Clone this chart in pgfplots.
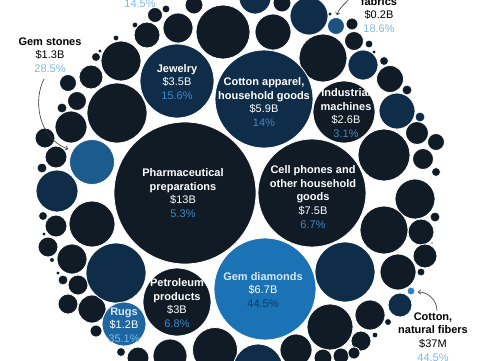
\documentclass[border=0pt]{standalone}
\usepackage{pgfplots}
\usepackage{pgfplotstable}
\pgfplotsset{compat=1.18}
\usepackage{fontspec}
\setmainfont{Liberation Sans}
\usetikzlibrary{arrows.meta}
\definecolor{blk}{HTML}{111B25}
\definecolor{nvy}{HTML}{0F2D49}
\definecolor{gemd}{HTML}{1B73B6}
\definecolor{rug}{HTML}{1E66A2}
\definecolor{gems}{HTML}{1C5B8E}
\definecolor{fab}{HTML}{1D5283}
\definecolor{cotf}{HTML}{2C84C6}
\definecolor{pctd}{HTML}{3F87C8}
\definecolor{pctl}{HTML}{7DB8DD}
\definecolor{pctg}{HTML}{0D3C6C}
\definecolor{rugl}{HTML}{D4E8F7}
\definecolor{rugp}{HTML}{79BCEB}
\definecolor{arr}{HTML}{333333}

\pgfplotstableread{
x y r
117 113 30
121 61 20
91 77 12
68 83 8.5
77 101 9.5
62 108 5
71 127 16
45 138 10
56 157 11
42 168 5
96 57 4.5
100 51 2
116 38 3
135 25 3
147 35 13
155 15 7.5
166 9 4
178 28 15
194 5 9
223 32 27
282 3 9
273 32 18
323 58 24
352 24 6
330 14 2
354 41 9.5
369 44 4
374 52 2
384 61 4.5
390 79 13.5
407 90 5
417 133 11.5
436 142 8.5
384 155 26
423 159 10.5
436 172 4.5
415 199 20
435 217 5
421 232 13
432 243 1.5
384 230 24
425 256 12
398 272 18
421 272 4
388 322 3.5
370 315 15
330 327 23
361 341 10
375 335 3
296 350 16
323 358 9
341 356 8
354 353 6
92 224 23
56 226 11
43 216 4.5
44 234 2
48 247 10
52 260 2.5
72 259 15
58 273 2
63 280 5
78 285 10
68 304 10
92 309 14
96 331 6
121 352 4.5
138 358 11
170 356 17
215 350 22.5
177 302 34
344 112 31
185 193 71
312 193 54
}\blacktab

\pgfplotstableread{
x y r
264 99 49
177 81 37
57 191 21
116 273 30
345 272 30
309 16 19
255 -2 16
363 65 15
397 111 18
420 117 5
400 305 12
258 369 25
}\navytab

\pgfplotstableread{
x y r
265 289 51
}\gemdtab
\pgfplotstableread{
x y r
124 324 22
}\rugtab
\pgfplotstableread{
x y r
92 162 22.5
}\gemstab
\pgfplotstableread{
x y r
336 26 8.5
}\fabtab
\pgfplotstableread{
x y r
411 291 4
}\cotftab

\pgfplotsset{bubble/.style={scatter, only marks, mark=*, line width=0.8pt,
  point meta=\thisrow{r},
  scatter/use mapped color={draw=white, fill=#1},
  visualization depends on={\thisrow{r} \as \perpointmarksize},
  scatter/@pre marker code/.append style={/tikz/mark size=\perpointmarksize}}}

\newcommand{\lab}{\fontsize{11}{13.7}\selectfont}

\begin{document}
\begin{tikzpicture}
\path[use as bounding box] (0,0) rectangle (500pt,360pt);
\begin{axis}[at={(250pt,180pt)}, anchor=center, scale only axis,
  width=500pt, height=360pt, xmin=0, xmax=500, ymin=0, ymax=360,
  y dir=reverse, hide axis, clip=false]
\addplot[bubble=blk] table {\blacktab};
\addplot[bubble=nvy] table {\navytab};
\addplot[bubble=gemd] table {\gemdtab};
\addplot[bubble=rug] table {\rugtab};
\addplot[bubble=gems] table {\gemstab};
\addplot[bubble=fab] table {\fabtab};
\addplot[bubble=cotf] table {\cotftab};
\coordinate (Lpharma) at (axis cs:183,193);
\coordinate (Lcell) at (axis cs:313,197);
\coordinate (Lcotap) at (axis cs:264,102);
\coordinate (Ljew) at (axis cs:177,82);
\coordinate (Lind) at (axis cs:346,113);
\coordinate (Lgemd) at (axis cs:263,290);
\coordinate (Lpet) at (axis cs:177,303);
\coordinate (Lrug) at (axis cs:124,325);
\coordinate (Lgems) at (axis cs:50,55);
\coordinate (Lfab) at (axis cs:379,15);
\coordinate (Lcotf) at (axis cs:433,337);
\coordinate (Ltop) at (axis cs:140,4);
\coordinate (A1) at (axis cs:44,79);
\coordinate (A1a) at (axis cs:33,100);
\coordinate (A1b) at (axis cs:38,138);
\coordinate (A1c) at (axis cs:68,149);
\coordinate (A2) at (axis cs:350,-2);
\coordinate (A2a) at (axis cs:344,5);
\coordinate (A2b) at (axis cs:339,8);
\coordinate (A2c) at (axis cs:337,15);
\coordinate (A3) at (axis cs:437,311);
\coordinate (A3a) at (axis cs:437,300);
\coordinate (A3b) at (axis cs:428,292);
\coordinate (A3c) at (axis cs:418,292);
\end{axis}

% labels inside circles
\node[font=\lab, align=center, text=white] at (Lpharma)
  {\textbf{Pharmaceutical}\\\textbf{preparations}\\\$13B\\\textcolor{pctd}{5.3\%}};
\node[font=\lab, align=center, text=white] at (Lcell)
  {\textbf{Cell phones and}\\\textbf{other household}\\\textbf{goods}\\\$7.5B\\\textcolor{pctd}{6.7\%}};
\node[font=\lab, align=center, text=white] at (Lcotap)
  {\textbf{Cotton apparel,}\\\textbf{household goods}\\\$5.9B\\\textcolor{pctd}{14\%}};
\node[font=\lab, align=center, text=white] at (Ljew)
  {\textbf{Jewelry}\\\$3.5B\\\textcolor{pctd}{15.6\%}};
\node[font=\lab, align=center, text=white] at (Lind)
  {\textbf{Industrial}\\\textbf{machines}\\\$2.6B\\\textcolor{pctd}{3.1\%}};
\node[font=\lab, align=center, text=white] at (Lgemd)
  {\textcolor{rugl}{\textbf{Gem diamonds}}\\\$6.7B\\\textcolor{pctg}{44.5\%}};
\node[font=\lab, align=center, text=white] at (Lpet)
  {\textbf{Petroleum}\\\textbf{products}\\\$3B\\\textcolor{pctd}{6.8\%}};
\node[font=\lab, align=center, text=white] at (Lrug)
  {\textcolor{rugl}{\textbf{Rugs}}\\\$1.2B\\\textcolor{rugp}{35.1\%}};

% outside labels
\node[font=\lab, align=center, text=black] at (Lgems)
  {\textbf{Gem stones}\\\$1.3B\\\textcolor{pctl}{28.5\%}};
\node[font=\lab, align=center, text=black] at (Lfab)
  {\textbf{fabrics}\\\$0.2B\\\textcolor{pctl}{18.6\%}};
\node[font=\lab, align=center, text=black] at (Lcotf)
  {\textbf{Cotton,}\\\textbf{natural fibers}\\\$37M\\\textcolor{pctl}{44.5\%}};
\node[font=\lab, text=pctl] at (Ltop) {14.5\%};

% arrows
\draw[arr, line width=0.6pt, -{To[length=3pt,width=5pt]}] (A1) .. controls (A1a) and (A1b) .. (A1c);
\draw[arr, line width=0.6pt, -{To[length=3pt,width=5pt]}] (A2) .. controls (A2a) and (A2b) .. (A2c);
\draw[arr, line width=0.6pt, -{To[length=3pt,width=5pt]}] (A3) .. controls (A3a) and (A3b) .. (A3c);
\end{tikzpicture}
\end{document}
